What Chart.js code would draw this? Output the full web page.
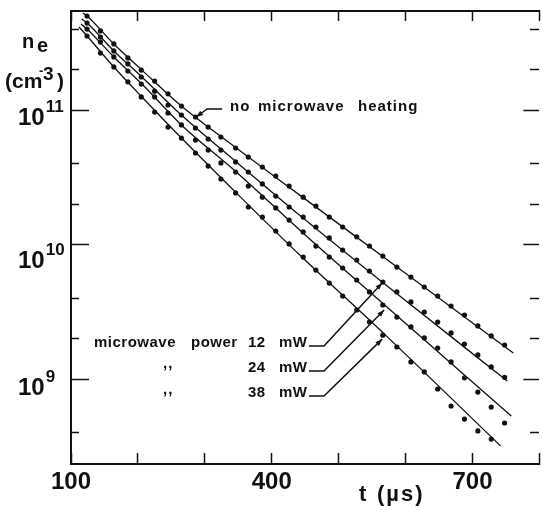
<!DOCTYPE html>
<html lang="en">
<head>
<meta charset="UTF-8">
<title>n_e decay with and without microwave heating</title>
<script src="https://cdn.jsdelivr.net/npm/chart.js@4/dist/chart.umd.min.js"></script>
<style>
    html, body { margin: 0; padding: 0; background: #fff; }
    #grafica { display: block; }
</style>
</head>
<body>
<canvas id="grafica" width="542" height="506"></canvas>
<script>
// measurement times (µs), same columns for every run
const times = [124, 144, 164, 185, 205, 225, 245, 265, 286, 305, 324, 346, 365, 386, 406, 426,
               447, 466, 486, 506, 527, 546, 566, 587, 608, 628, 648, 668, 688, 708, 728, 748];

// measured electron density ne (cm^-3)
const noHeating = [5.00e11, 3.87e11, 3.10e11, 2.44e11, 1.98e11, 1.64e11, 1.32e11, 1.07e11,
                   8.87e10, 7.47e10, 6.30e10, 5.22e10, 4.47e10, 3.77e10, 3.23e10, 2.72e10,
                   2.25e10, 1.93e10, 1.60e10, 1.35e10, 1.14e10, 9.75e9, 8.21e9, 6.80e9,
                   5.73e9, 4.83e9, 4.14e9, 3.49e9, 2.99e9, 2.48e9, 2.09e9, 1.79e9];
const power12 = [4.43e11, 3.49e11, 2.75e11, 2.20e11, 1.76e11, 1.38e11, 1.09e11, 9.18e10,
                 7.35e10, 6.09e10, 5.04e10, 4.11e10, 3.46e10, 2.82e10, 2.29e10, 1.90e10,
                 1.60e10, 1.35e10, 1.12e10, 9.10e9, 7.67e9, 6.35e9, 5.26e9, 4.44e9,
                 3.74e9, 3.15e9, 2.65e9, 2.20e9, 1.82e9, 1.51e9, 1.23e9, 1.03e9];
const power24 = [4.00e11, 3.20e11, 2.48e11, 1.95e11, 1.56e11, 1.25e11, 9.50e10, 7.74e10,
                 5.98e10, 5.04e10, 4.04e10, 3.46e10, 2.72e10, 2.25e10, 1.87e10, 1.52e10,
                 1.24e10, 9.74e9, 8.07e9, 6.69e9, 5.45e9, 4.44e9, 3.55e9, 2.89e9,
                 2.44e9, 2.02e9, 1.70e9, 1.34e9, 1.02e9, 8.00e8, 6.19e8, 4.71e8];
const power38 = [3.55e11, 2.65e11, 2.09e11, 1.62e11, 1.25e11, 9.66e10, 7.47e10, 6.19e10,
                 4.79e10, 3.83e10, 3.07e10, 2.42e10, 1.90e10, 1.60e10, 1.26e10, 1.01e10,
                 8.07e9, 6.46e9, 5.17e9, 4.14e9, 3.26e9, 2.65e9, 2.12e9, 1.73e9,
                 1.34e9, 1.13e9, 8.43e8, 6.30e8, 5.04e8, 4.11e8, 3.58e8];

// fitted curves, read as a few nodes along each drawn line
const fitNoHeatingT = [118, 124, 164, 206, 265, 347, 446, 565, 761];
const fitNoHeating  = [5.26e11, 5.00e11, 3.10e11, 1.98e11, 1.07e11, 5.22e10, 2.25e10, 8.21e9, 1.56e9];
const fit12T = [116, 124, 164, 206, 265, 347, 445, 565, 752];
const fit12  = [4.75e11, 4.43e11, 2.75e11, 1.76e11, 9.18e10, 4.11e10, 1.60e10, 5.26e9, 9.66e8];
const fit24T = [115, 124, 164, 206, 265, 347, 445, 567, 758];
const fit24  = [4.36e11, 4.00e11, 2.48e11, 1.56e11, 7.74e10, 3.46e10, 1.24e10, 3.61e9, 5.31e8];
const fit38T = [112, 124, 164, 206, 265, 347, 445, 570, 742];
const fit38  = [4.14e11, 3.55e11, 2.09e11, 1.25e11, 6.19e10, 2.42e10, 8.07e9, 2.12e9, 3.18e8];

// axes
const xLabels = [100, 400, 700];
const yTicks = [4e8, 1e9, 2e9, 4e9, 1e10, 2e10, 4e10, 1e11, 2e11, 4e11];
const yMajor = [1e9, 1e10, 1e11];
const yMin = 2.335e8, yMax = 5.446e11;

const ink = '#111';
const FONT = '"Liberation Sans", Arial, sans-serif';

function pts(ts, ns) { return ns.map((n, i) => ({ x: ts[i], y: n })); }

const dotStyle = { showLine: false, pointRadius: 2.6, pointHoverRadius: 2.6,
                   pointBackgroundColor: ink, pointBorderWidth: 0 };
const lineStyle = { pointRadius: 0, pointHoverRadius: 0, borderColor: ink, borderWidth: 1.3,
                    cubicInterpolationMode: 'monotone', fill: false };

// minor ticks only keep the part next to the axis
const isMajor = c => !c.tick || yMajor.includes(c.tick.value);

// x axes: no side padding, the chart area has to reach the canvas edge
const noSidePadding = h => s => { s.height = h; s.paddingLeft = 0; s.paddingRight = 0; };

function arrowHead(ctx, x0, y0, x1, y1) {
    const a = Math.atan2(y1 - y0, x1 - x0), len = 7, w = 2.6;
    ctx.beginPath();
    ctx.moveTo(x1, y1);
    ctx.lineTo(x1 - len * Math.cos(a) + w * Math.sin(a), y1 - len * Math.sin(a) - w * Math.cos(a));
    ctx.lineTo(x1 - len * Math.cos(a) - w * Math.sin(a), y1 - len * Math.sin(a) + w * Math.cos(a));
    ctx.closePath();
    ctx.fill();
}

function text(ctx, s, x, y, size, spacing) {
    ctx.font = 'bold ' + size + 'px ' + FONT;
    ctx.letterSpacing = (spacing || 0) + 'px';
    ctx.fillText(s, x, y);
}

// y labels 10^n and all the lettering on the plot
const labels = {
    id: 'labels',
    afterDraw(chart) {
        const ctx = chart.ctx, xs = chart.scales.x, ys = chart.scales.y;
        ctx.save();
        ctx.fillStyle = ink;
        ctx.strokeStyle = ink;
        ctx.textBaseline = 'alphabetic';
        ctx.textAlign = 'left';

        const drop = { 1e9: 0, 1e10: 7, 1e11: -1 };
        yMajor.forEach(v => {
            const py = ys.getPixelForValue(v) + drop[v];
            text(ctx, '10', 18, py + 16, 24);
            ctx.letterSpacing = '0px';
            const w = ctx.measureText('10').width;
            text(ctx, String(Math.round(Math.log10(v))), 18 + w + 1, py + 3, 17);
        });

        // axis titles
        text(ctx, 'n', 22, 48, 20);
        text(ctx, 'e', 37, 52, 20);
        text(ctx, '(cm', 5, 88, 21);
        text(ctx, '-', 39, 75, 13);
        text(ctx, '3', 43, 80, 19);
        text(ctx, ')', 57, 88, 21);
        text(ctx, 't', 359, 501, 22);
        text(ctx, '(µs)', 377, 501, 22, 2);

        // "no microwave heating"
        text(ctx, 'no', 230, 111, 15, 1);
        text(ctx, 'microwave', 258, 111, 15, 1);
        text(ctx, 'heating', 358, 111, 15, 1);
        ctx.lineWidth = 1.5;
        let tip = [xs.getPixelForValue(287), ys.getPixelForValue(8.87e10)];
        ctx.beginPath();
        ctx.moveTo(tip[0] + 26, tip[1] - 8);
        ctx.lineTo(tip[0] + 11, tip[1] - 8);
        ctx.lineTo(tip[0], tip[1]);
        ctx.stroke();
        arrowHead(ctx, tip[0] + 11, tip[1] - 8, tip[0], tip[1]);

        // microwave power labels with arrows
        const rows = [
            { base: 347, ditto: null, p: '12', tipT: 565, tipN: 5.18e9 },
            { base: 372, ditto: 368, p: '24', tipT: 568, tipN: 3.26e9 },
            { base: 397, ditto: 394, p: '38', tipT: 565, tipN: 1.98e9 }
        ];
        rows.forEach(r => {
            if (r.ditto === null) {
                text(ctx, 'microwave', 94, r.base, 15, 0.5);
                text(ctx, 'power', 191, r.base, 15, 0.5);
            } else {
                text(ctx, ',,', 163, r.ditto, 15, 1);
            }
            text(ctx, r.p, 248, r.base, 15, 0.5);
            text(ctx, 'mW', 279, r.base, 15, 0.5);
            const tx = xs.getPixelForValue(r.tipT), ty = ys.getPixelForValue(r.tipN);
            ctx.beginPath();
            ctx.moveTo(309, r.base - 1);
            ctx.lineTo(324, r.base - 1);
            ctx.lineTo(tx, ty);
            ctx.stroke();
            arrowHead(ctx, 324, r.base - 1, tx, ty);
        });
        ctx.restore();
    }
};

new Chart(document.getElementById('grafica'), {
    type: 'line',
    data: {
        datasets: [
            Object.assign({ data: pts(times, noHeating) }, dotStyle),
            Object.assign({ data: pts(times, power12) }, dotStyle),
            Object.assign({ data: pts(times, power24) }, dotStyle),
            Object.assign({ data: pts(times, power38) }, dotStyle),
            Object.assign({ data: pts(fitNoHeatingT, fitNoHeating) }, lineStyle),
            Object.assign({ data: pts(fit12T, fit12) }, lineStyle),
            Object.assign({ data: pts(fit24T, fit24) }, lineStyle),
            Object.assign({ data: pts(fit38T, fit38) }, lineStyle)
        ]
    },
    options: {
        responsive: false,
        devicePixelRatio: 1,
        animation: false,
        layout: { padding: 0 },
        plugins: { legend: { display: false }, tooltip: { enabled: false } },
        scales: {
            x: {
                type: 'linear', position: 'bottom', min: 100, max: 800,
                border: { display: true, width: 2, color: ink },
                grid: { drawOnChartArea: false, tickLength: -11, tickWidth: 1.5, tickColor: ink },
                ticks: {
                    stepSize: 100, autoSkip: false, maxRotation: 0, padding: 15, color: ink,
                    font: { family: FONT, size: 24, weight: 'bold' },
                    callback: v => xLabels.includes(v) ? String(v) : ''
                },
                afterFit: noSidePadding(42)
            },
            xTop: {
                type: 'linear', position: 'top', min: 100, max: 800,
                border: { display: true, width: 2, color: ink },
                grid: { drawOnChartArea: false, tickLength: -10, tickWidth: 1.5, tickColor: ink },
                ticks: { display: false, stepSize: 100, autoSkip: false },
                afterFit: noSidePadding(11)
            },
            y: {
                type: 'logarithmic', position: 'left', min: yMin, max: yMax,
                border: { display: true, width: 2, color: ink },
                grid: {
                    drawOnChartArea: false, tickLength: -18, tickWidth: 1.5, tickColor: ink,
                    tickBorderDash: c => isMajor(c) ? [] : [9, 10],
                    tickBorderDashOffset: c => isMajor(c) ? 0 : 9
                },
                ticks: { display: false },
                afterBuildTicks: s => { s.ticks = yTicks.map(v => ({ value: v })); },
                afterFit: s => { s.width = 71; }
            },
            yRight: {
                type: 'logarithmic', position: 'right', min: yMin, max: yMax,
                border: { display: false },
                grid: {
                    drawOnChartArea: false, tickLength: -16, tickWidth: 1.5, tickColor: ink,
                    tickBorderDash: c => isMajor(c) ? [] : [9, 50]
                },
                ticks: { display: false },
                afterBuildTicks: s => { s.ticks = yTicks.map(v => ({ value: v })); },
                afterFit: s => { s.width = 0; }
            }
        }
    },
    plugins: [labels]
});
</script>
</body>
</html>
